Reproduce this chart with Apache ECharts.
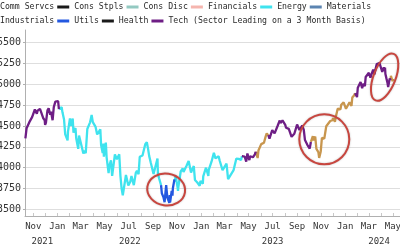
<!DOCTYPE html>
<html><head><meta charset="utf-8">
<script src="https://cdn.jsdelivr.net/npm/echarts@6/dist/echarts.min.js"></script>
<style>html,body{margin:0;padding:0;background:#fff}#c{width:400px;height:250px}</style>
</head><body><div id="c"></div>
<script>
const sectorsRow1 = ['Comm Servcs','Cons Stpls','Cons Disc','Financials','Energy','Materials'];
const sectorsRow2 = ['Industrials','Utils','Health','Tech'];
const sectorColors = {
  'Comm Servcs':'#c8964e','Cons Stpls':'#1a1a1a','Cons Disc':'#93c9c1','Financials':'#f5b5ae',
  'Energy':'#3fe3ee','Materials':'#5b84b1','Industrials':'#8a8a8a','Utils':'#2458e0',
  'Health':'#1a1a1a','Tech':'#6e1e85'
};
const techSuffix = ' (Sector Leading on a 3 Month Basis)';

const dates = [
'2021-10-12','2021-10-15','2021-10-22','2021-10-29','2021-11-05','2021-11-10','2021-11-12','2021-11-18','2021-11-23','2021-11-26',
'2021-11-30','2021-12-01','2021-12-03','2021-12-07','2021-12-10','2021-12-14','2021-12-16','2021-12-20','2021-12-23','2021-12-27',
'2021-12-30','2022-01-03',
'2022-01-05','2022-01-07','2022-01-12','2022-01-14','2022-01-18','2022-01-21','2022-01-24','2022-01-27','2022-01-28','2022-02-02',
'2022-02-04','2022-02-09','2022-02-11','2022-02-16','2022-02-18','2022-02-23','2022-02-25','2022-03-01','2022-03-04','2022-03-08',
'2022-03-11','2022-03-14','2022-03-18','2022-03-25','2022-03-29','2022-04-01','2022-04-05','2022-04-08','2022-04-12','2022-04-14',
'2022-04-20','2022-04-22','2022-04-26','2022-04-28','2022-04-29','2022-05-04','2022-05-06','2022-05-11','2022-05-13','2022-05-17',
'2022-05-20','2022-05-27','2022-06-01','2022-06-07','2022-06-10','2022-06-13','2022-06-16','2022-06-17','2022-06-24','2022-06-30',
'2022-07-05','2022-07-08','2022-07-14','2022-07-19','2022-07-22','2022-07-26','2022-07-29','2022-08-05','2022-08-12','2022-08-16',
'2022-08-19','2022-08-22','2022-08-26','2022-09-02','2022-09-06','2022-09-12','2022-09-13','2022-09-16',
'2022-09-21','2022-09-23','2022-09-27','2022-09-29','2022-09-30','2022-10-04','2022-10-07','2022-10-12','2022-10-13','2022-10-14',
'2022-10-18','2022-10-20','2022-10-21',
'2022-10-25','2022-10-26','2022-10-28','2022-11-02','2022-11-03','2022-11-04','2022-11-10','2022-11-15','2022-11-17','2022-11-25',
'2022-11-30','2022-12-01','2022-12-06','2022-12-09','2022-12-13','2022-12-16','2022-12-22','2022-12-28','2022-12-30','2023-01-05',
'2023-01-06','2023-01-13','2023-01-19','2023-01-20','2023-01-27','2023-02-02','2023-02-06','2023-02-10','2023-02-14','2023-02-17',
'2023-02-24','2023-03-01','2023-03-06','2023-03-10','2023-03-13','2023-03-17','2023-03-22','2023-03-24','2023-03-31','2023-04-06',
'2023-04-12',
'2023-04-14','2023-04-18','2023-04-21','2023-04-25','2023-04-28','2023-05-03','2023-05-05','2023-05-10','2023-05-12','2023-05-17',
'2023-05-19','2023-05-24','2023-05-26','2023-06-02','2023-06-06','2023-06-09','2023-06-13','2023-06-16',
'2023-06-20','2023-06-23','2023-06-30','2023-07-06','2023-07-10','2023-07-14','2023-07-19','2023-07-21','2023-07-26','2023-07-31',
'2023-08-02','2023-08-04','2023-08-09','2023-08-11','2023-08-18','2023-08-22','2023-08-25','2023-09-01','2023-09-07','2023-09-14',
'2023-09-18','2023-09-21','2023-09-27','2023-09-29','2023-10-03',
'2023-10-06','2023-10-11','2023-10-13','2023-10-17','2023-10-20','2023-10-23','2023-10-25','2023-10-27','2023-10-31','2023-11-03',
'2023-11-09','2023-11-14','2023-11-17','2023-11-24','2023-11-30','2023-12-01','2023-12-06','2023-12-08','2023-12-13','2023-12-15',
'2023-12-20','2023-12-22','2023-12-28','2024-01-03','2024-01-05','2024-01-12','2024-01-17','2024-01-19','2024-01-24',
'2024-01-26','2024-01-31','2024-02-02','2024-02-09','2024-02-13','2024-02-16','2024-02-20','2024-02-22','2024-03-01','2024-03-05',
'2024-03-08','2024-03-12','2024-03-15','2024-03-21','2024-03-28','2024-04-01','2024-04-04','2024-04-08','2024-04-10','2024-04-11',
'2024-04-12','2024-04-15','2024-04-17','2024-04-19','2024-04-23',
'2024-04-25','2024-04-26','2024-04-29','2024-04-30','2024-05-01','2024-05-02'
];
const closes = [
4351,4471,4545,4605,4697,4646,4683,4705,4690,4595,
4567,4513,4538,4686,4712,4634,4669,4568,4726,4791,
4778,4796,
4700,4677,4726,4663,4577,4398,4410,4327,4432,4589,
4500,4587,4419,4475,4349,4225,4385,4306,4329,4170,
4204,4173,4463,4543,4631,4545,4525,4488,4397,4393,
4459,4272,4175,4288,4132,4300,4123,3935,4024,4088,
3901,4158,4101,4161,3901,3750,3667,3675,3912,3785,
3831,3899,3790,3937,3962,3921,4130,4145,4280,4305,
4228,4138,4058,3924,3908,4110,3932,3873,
3790,3693,3647,3640,3586,3791,3640,3577,3670,3583,
3720,3665,3752,
3859,3830,3901,3760,3720,3771,3956,3991,3947,4026,
4080,4076,3941,3934,4019,3852,3822,3783,3840,3808,
3895,3999,3899,3972,4071,4179,4111,4090,4136,4079,
3970,3951,4048,3862,3855,3917,3937,3971,4109,4105,
4092,
4137,4154,4133,4071,4169,4090,4136,4137,4124,4158,
4191,4115,4205,4282,4283,4299,4369,4410,
4389,4348,4450,4411,4409,4505,4565,4536,4566,4589,
4513,4478,4467,4464,4370,4388,4406,4516,4451,4505,
4453,4330,4274,4288,4229,
4308,4377,4327,4373,4224,4217,4186,4117,4194,4358,
4347,4496,4514,4559,4568,4595,4549,4604,4707,4719,
4698,4754,4783,4705,4697,4784,4739,4840,4868,
4891,4846,4959,5027,4953,5006,4976,5087,5137,5079,
5124,5175,5117,5241,5254,5243,5147,5202,5161,5199,
5123,5061,5022,4967,5070,
5048,5100,5116,5036,5018,5064
];
// leading sector runs: [sector, last date of the run]
const leaderRuns = [
  ['Tech','2022-01-03'], ['Energy','2022-09-16'], ['Utils','2022-10-21'], ['Energy','2023-04-12'],
  ['Tech','2023-05-17'], ['Comm Servcs','2023-06-16'], ['Tech','2023-10-03'], ['Comm Servcs','2024-01-24'],
  ['Tech','2024-04-23'], ['Comm Servcs','2024-05-02']
];
const yTickValues = [3500,3750,4000,4250,4500,4750,5000,5250,5500];
const monthLabelDates = ['2021-11-01','2022-01-01','2022-03-01','2022-05-01','2022-07-01','2022-09-01','2022-11-01',
  '2023-01-01','2023-03-01','2023-05-01','2023-07-01','2023-09-01','2023-11-01','2024-01-01','2024-03-01','2024-05-01'];
const yearLabelDates = ['2021-11-24','2022-07-04','2023-07-01','2024-03-27'];
const monthNames = ['Jan','Feb','Mar','Apr','May','Jun','Jul','Aug','Sep','Oct','Nov','Dec'];
const xRange = ['2021-10-11','2024-05-19'];
// annotation anchors (date, value)
const annotationAnchors = [['2022-10-04',3738],['2023-11-09',4340],['2024-04-10',5085]];

// derived
const ts = s => { const p = s.split('-').map(Number); return Date.UTC(p[0], p[1]-1, p[2]); };
const leaders = dates.map(d => { for (const r of leaderRuns) { if (d <= r[1]) return r[0]; } return null; });
const allSectors = sectorsRow1.concat(sectorsRow2);
function sectorData(s) {
  return dates.map((d,i) => (leaders[i]===s || (i>0 && leaders[i-1]===s)) ? [ts(d), closes[i]] : [ts(d), null]);
}
const monthTickValues = [];
for (let y=2021; y<=2024; y++) for (let m=0; m<12; m++) {
  const t = Date.UTC(y, m, 1);
  if (t >= ts('2021-10-15') && t <= ts('2024-05-15')) monthTickValues.push(t);
}
const FONT = 'DejaVu Sans Mono';
const series = allSectors.map(s => ({
  type:'line', name:s, data: leaders.includes(s) ? sectorData(s) : [],
  color: sectorColors[s], symbol:'none', showSymbol:false, connectNulls:false,
  lineStyle:{width:2.3, color:sectorColors[s]}, animation:false, xAxisIndex:0, yAxisIndex:0
}));
const legendBase = {
  left:-17, padding:0, itemWidth:12, itemHeight:3, itemGap:3, icon:'rect', selectedMode:false,
  textStyle:{fontFamily:FONT, fontSize:8.2, color:'#2a2a2a'},
  formatter: n => n==='Tech' ? n + techSuffix : n
};
const chart = echarts.init(document.getElementById('c'), null, {renderer:'canvas'});
chart.setOption({
  animation:false,
  backgroundColor:'#fff',
  legend:[Object.assign({top:3, data:sectorsRow1}, legendBase), Object.assign({top:17, data:sectorsRow2}, legendBase)],
  grid:{left:25, right:0, top:30, bottom:34, containLabel:false, outerBoundsMode:'none'},
  xAxis:[{
    type:'value', min:ts(xRange[0]), max:ts(xRange[1]), position:'bottom', scale:true,
    axisLine:{show:true, lineStyle:{color:'#b0b0b0', width:1}},
    axisTick:{show:true, inside:true, length:3, customValues:monthTickValues, lineStyle:{color:'#c8c8c8'}},
    axisLabel:{customValues:monthLabelDates.map(ts), margin:6, fontFamily:FONT, fontSize:9, color:'#333',
      formatter: v => monthNames[new Date(v).getUTCMonth()]},
    splitLine:{show:false}
  },{
    type:'value', min:ts(xRange[0]), max:ts(xRange[1]), position:'bottom', gridIndex:0, scale:true,
    axisLine:{show:false}, axisTick:{show:false}, splitLine:{show:false},
    axisLabel:{customValues:yearLabelDates.map(ts), margin:21, fontFamily:FONT, fontSize:9, color:'#333',
      formatter: v => String(new Date(v).getUTCFullYear())}
  }],
  yAxis:{
    type:'value', min:3420, max:5650,
    axisLine:{show:true, lineStyle:{color:'#b0b0b0'}},
    axisTick:{show:true, length:2, customValues:yTickValues, lineStyle:{color:'#b0b0b0'}},
    axisLabel:{customValues:yTickValues, margin:4, fontFamily:FONT, fontSize:10, color:'#333',
      formatter: v => String(v)},
    splitLine:{show:true, lineStyle:{color:'#dedede', width:1}}
  },
  series: series
});
const shapes = [{rx:19, ry:16, rot:-0.15},{rx:25, ry:25, rot:0},{rx:11, ry:25, rot:-0.37}];
const graphics = annotationAnchors.map((a,i) => {
  const p = chart.convertToPixel({xAxisIndex:0, yAxisIndex:0}, [ts(a[0]), a[1]]);
  return {type:'ellipse', x:p[0], y:p[1], rotation:shapes[i].rot, z:100,
    shape:{cx:0, cy:0, rx:shapes[i].rx, ry:shapes[i].ry},
    style:{fill:null, stroke:'#c8463f', lineWidth:2, shadowColor:'rgba(0,0,0,0.25)', shadowBlur:2}};
});
chart.setOption({graphic:graphics});
</script></body></html>
